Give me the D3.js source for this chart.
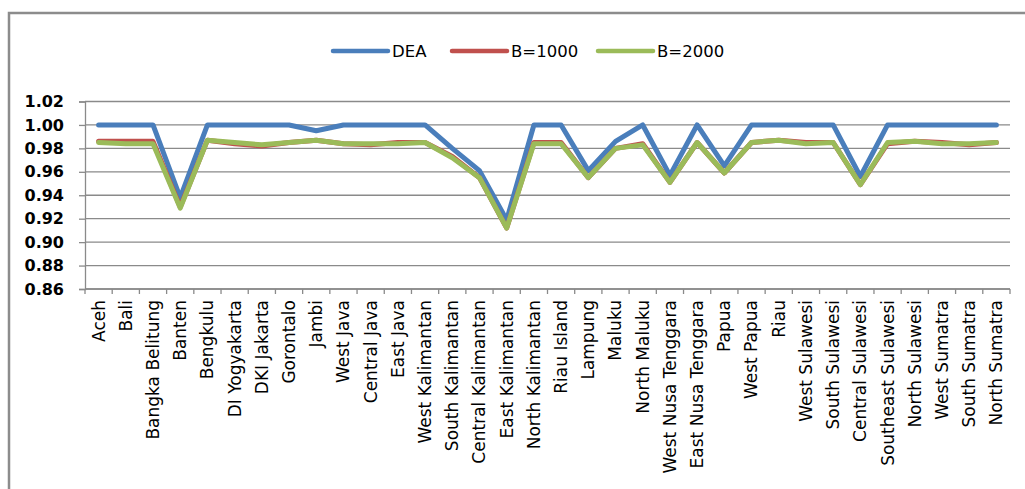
<!DOCTYPE html>
<html>
<head>
<meta charset="utf-8">
<script src="https://cdn.jsdelivr.net/npm/d3@7/dist/d3.min.js"></script>
<style>
  html, body { margin: 0; padding: 0; background: #fff; }
  svg { display: block; }
  text { font-family: "DejaVu Sans", "Noto Sans", sans-serif; fill: #000; }
</style>
</head>
<body>
<svg id="chart" width="1025" height="489"></svg>
<script>
// Provinces on the x axis
const provinces = [
  "Aceh", "Bali", "Bangka Belitung", "Banten", "Bengkulu", "DI Yogyakarta",
  "DKI Jakarta", "Gorontalo", "Jambi", "West Java", "Central Java", "East Java",
  "West Kalimantan", "South Kalimantan", "Central Kalimantan", "East Kalimantan",
  "North Kalimantan", "Riau Island", "Lampung", "Maluku", "North Maluku",
  "West Nusa Tenggara", "East Nusa Tenggara", "Papua", "West Papua", "Riau",
  "West Sulawesi", "South Sulawesi", "Central Sulawesi", "Southeast Sulawesi",
  "North Sulawesi", "West Sumatra", "South Sumatra", "North Sumatra"
];

// Efficiency scores
const dea = [
  1.000, 1.000, 1.000, 0.938, 1.000, 1.000, 1.000, 1.000, 0.995, 1.000, 1.000, 1.000,
  1.000, 0.980, 0.961, 0.919, 1.000, 1.000, 0.961, 0.986, 1.000, 0.957, 1.000, 0.965,
  1.000, 1.000, 1.000, 1.000, 0.956, 1.000, 1.000, 1.000, 1.000, 1.000
];
const b1000 = [
  0.986, 0.986, 0.986, 0.930, 0.987, 0.984, 0.982, 0.985, 0.987, 0.984, 0.983, 0.985,
  0.985, 0.973, 0.955, 0.912, 0.985, 0.985, 0.955, 0.980, 0.984, 0.951, 0.985, 0.959,
  0.985, 0.987, 0.985, 0.985, 0.949, 0.984, 0.986, 0.985, 0.983, 0.985
];
const b2000 = [
  0.985, 0.984, 0.984, 0.929, 0.987, 0.985, 0.983, 0.985, 0.987, 0.984, 0.984, 0.984,
  0.985, 0.972, 0.955, 0.912, 0.984, 0.984, 0.955, 0.980, 0.983, 0.951, 0.985, 0.959,
  0.985, 0.987, 0.984, 0.985, 0.949, 0.985, 0.986, 0.984, 0.984, 0.985
];

const seriesNames = ["DEA", "B=1000", "B=2000"];
const seriesColors = ["#4a7ebb", "#c0504d", "#9bbb59"];
const yTicks = [0.86, 0.88, 0.90, 0.92, 0.94, 0.96, 0.98, 1.00, 1.02];

const series = [dea, b1000, b2000].map((values, i) => ({
  name: seriesNames[i], color: seriesColors[i], values
}));

const svg = d3.select("#chart");

// Chart frame
svg.append("rect")
  .attr("x", 9).attr("y", 13)
  .attr("width", 1100).attr("height", 600)
  .attr("fill", "#fff")
  .attr("stroke", "#8c8c8c")
  .attr("stroke-width", 2.5);

const plot = { left: 85, right: 1010, top: 101.5, bottom: 289 };

const x = d3.scaleBand().domain(provinces).range([plot.left, plot.right]).padding(0);
const y = d3.scaleLinear().domain([0.86, 1.02]).range([plot.bottom, plot.top]);

// Horizontal gridlines
svg.append("g")
  .selectAll("line")
  .data(yTicks)
  .join("line")
  .attr("x1", plot.left).attr("x2", plot.right)
  .attr("y1", d => y(d)).attr("y2", d => y(d))
  .attr("stroke", "#8a8a8a")
  .attr("stroke-width", 1.3);

// Y axis
const yAxis = svg.append("g")
  .attr("transform", `translate(${plot.left},0)`)
  .call(d3.axisLeft(y).tickValues(yTicks).tickFormat(d3.format(".2f")).tickSize(6).tickPadding(15));
yAxis.select(".domain").attr("stroke", "#8a8a8a").attr("stroke-width", 1.3);
yAxis.selectAll(".tick line").attr("stroke", "#8a8a8a").attr("stroke-width", 1.3);
yAxis.selectAll(".tick text")
  .attr("font-size", 16).attr("font-weight", "bold")
  .style("font-family", "'DejaVu Sans', sans-serif");

// X axis: tick marks on category boundaries
const xAxisG = svg.append("g").attr("transform", `translate(0,${plot.bottom})`);
xAxisG.append("line")
  .attr("x1", plot.left).attr("x2", plot.right)
  .attr("stroke", "#8a8a8a").attr("stroke-width", 1.3);
const boundaries = provinces.map(p => x(p)).concat([x(provinces[provinces.length - 1]) + x.bandwidth()]);
xAxisG.selectAll("line.tk")
  .data(boundaries)
  .join("line")
  .attr("class", "tk")
  .attr("x1", d => d).attr("x2", d => d)
  .attr("y1", 0).attr("y2", 5)
  .attr("stroke", "#8a8a8a").attr("stroke-width", 1.3);

// Rotated province labels
xAxisG.selectAll("text")
  .data(provinces)
  .join("text")
  .attr("transform", d => `translate(${x(d) + x.bandwidth() / 2},11) rotate(-90)`)
  .attr("text-anchor", "end")
  .attr("dy", "0.35em")
  .attr("font-size", 17)
  .text(d => d);

// Series lines
const line = d3.line()
  .x((d, i) => x(provinces[i]) + x.bandwidth() / 2)
  .y(d => y(d));

svg.append("g")
  .selectAll("path")
  .data(series)
  .join("path")
  .attr("d", d => line(d.values))
  .attr("fill", "none")
  .attr("stroke", d => d.color)
  .attr("stroke-width", 5)
  .attr("stroke-linejoin", "round")
  .attr("stroke-linecap", "round");

// Legend
const legendX = [333, 452, 598];
const legend = svg.append("g")
  .selectAll("g")
  .data(series)
  .join("g")
  .attr("transform", (d, i) => `translate(${legendX[i]},51)`);
legend.append("line")
  .attr("x1", 0).attr("x2", 55)
  .attr("stroke", d => d.color)
  .attr("stroke-width", 4.5)
  .attr("stroke-linecap", "round");
legend.append("text")
  .attr("x", 59)
  .attr("dy", "0.36em")
  .attr("font-size", 16.5)
  .text(d => d.name);
</script>
</body>
</html>
